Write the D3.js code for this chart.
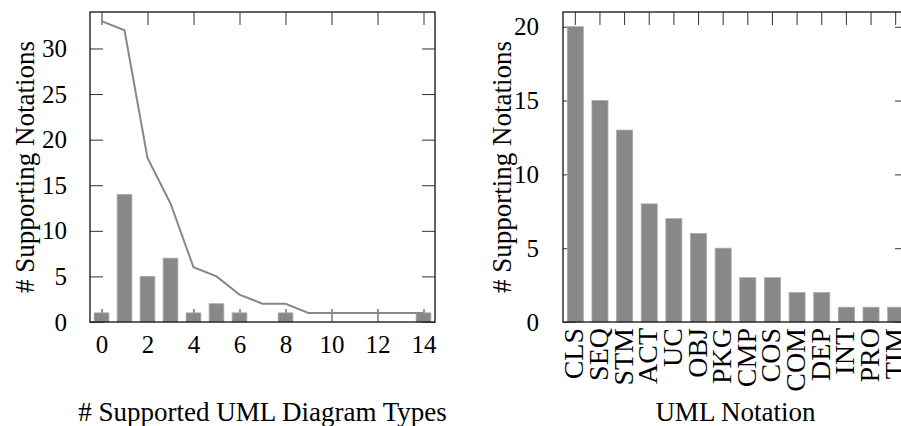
<!DOCTYPE html>
<html>
<head>
<meta charset="utf-8">
<script src="https://cdn.jsdelivr.net/npm/d3@7"></script>
<style>
  body { margin: 0; background: #fff; }
  svg { display: block; }
  text { font-family: "Liberation Serif", "DejaVu Serif", serif; fill: #000; }
</style>
</head>
<body>
<script>
// left chart: tools by number of supported diagram types
var diagTypes = [0, 1, 2, 3, 4, 5, 6, 7, 8, 9, 10, 11, 12, 13, 14];
var toolCounts = [1, 14, 5, 7, 1, 2, 1, 0, 1, 0, 0, 0, 0, 0, 1];
var cumulative = [33, 32, 18, 13, 6, 5, 3, 2, 2, 1, 1, 1, 1, 1, 1];
var leftXTicks = [0, 2, 4, 6, 8, 10, 12, 14];
var leftYTicks = [0, 5, 10, 15, 20, 25, 30];

// right chart: support per notation
var notations = ['CLS', 'SEQ', 'STM', 'ACT', 'UC', 'OBJ', 'PKG', 'CMP', 'COS', 'COM', 'DEP', 'INT', 'PRO', 'TIM'];
var notationCounts = [20, 15, 13, 8, 7, 6, 5, 3, 3, 2, 2, 1, 1, 1];
var rightYTicks = [0, 5, 10, 15, 20];

var fsTick = 25;   // numbers
var fsCat = 28;    // rotated notation names
var fsTitle = 27;  // axis titles
var tick = 13;
var barFill = '#888888';
var barEdge = '#a8a8a8';

var svg = d3.select('body')
  .append('svg')
  .attr('width', 901)
  .attr('height', 426);

function cleanAxis(g, size) {
  g.select('.domain').remove();
  g.selectAll('line').attr('stroke', '#333').attr('stroke-width', 1);
  g.selectAll('text').style('font-size', (size || fsTick) + 'px').attr('font-family', null);
}

// ---------- left chart ----------
var L = {left: 90, right: 435, top: 12, bottom: 322};
var x1 = d3.scaleLinear().domain([-0.5, 14.5]).range([L.left, L.right]);
var y1 = d3.scaleLinear().domain([0, 34]).range([L.bottom, L.top]);

var left = svg.append('g');

left.append('g')
  .attr('transform', 'translate(0,' + L.bottom + ')')
  .call(d3.axisBottom(x1).tickValues(leftXTicks).tickSize(-tick).tickPadding(13))
  .call(cleanAxis);
left.append('g')
  .attr('transform', 'translate(0,' + L.top + ')')
  .call(d3.axisTop(x1).tickValues(leftXTicks).tickSize(-tick).tickFormat(''))
  .call(cleanAxis);
left.append('g')
  .attr('transform', 'translate(' + L.left + ',0)')
  .call(d3.axisLeft(y1).tickValues(leftYTicks).tickSize(-tick).tickPadding(23))
  .call(cleanAxis);
left.append('g')
  .attr('transform', 'translate(' + L.right + ',0)')
  .call(d3.axisRight(y1).tickValues(leftYTicks).tickSize(-tick).tickFormat(''))
  .call(cleanAxis);

var bw1 = x1(0.32) - x1(0);
left.selectAll('rect.bar')
  .data(diagTypes.filter(function(d, i){ return toolCounts[i] > 0; }))
  .enter()
  .append('rect')
  .attr('class', 'bar')
  .attr('x', d => x1(d) - bw1)
  .attr('width', bw1 * 2)
  .attr('y', d => y1(toolCounts[d]))
  .attr('height', d => y1(0) - y1(toolCounts[d]))
  .attr('fill', barFill)
  .attr('stroke', barEdge)
  .attr('stroke-width', 0.8);

left.append('path')
  .datum(diagTypes)
  .attr('d', d3.line().x(d => x1(d)).y(d => y1(cumulative[d])))
  .attr('fill', 'none')
  .attr('stroke', '#888')
  .attr('stroke-width', 2);

left.append('rect')
  .attr('x', L.left).attr('y', L.top)
  .attr('width', L.right - L.left).attr('height', L.bottom - L.top)
  .attr('fill', 'none').attr('stroke', '#111').attr('stroke-width', 1.3);

left.append('text')
  .attr('transform', 'translate(34,' + (L.top + L.bottom) / 2 + ') rotate(-90)')
  .attr('text-anchor', 'middle')
  .style('font-size', fsTitle + 'px')
  .text('# Supporting Notations');

left.append('text')
  .attr('x', (L.left + L.right) / 2)
  .attr('y', 421)
  .attr('text-anchor', 'middle')
  .style('font-size', fsTitle + 'px')
  .text('# Supported UML Diagram Types');

// ---------- right chart ----------
var R = {left: 563, right: 908, top: 12, bottom: 322};
var x2 = d3.scaleBand().domain(notations).range([R.left, R.right])
  .paddingInner(0.35).paddingOuter(0.175);
var y2 = d3.scaleLinear().domain([0, 21]).range([R.bottom, R.top]);

var right = svg.append('g');

right.append('g')
  .attr('transform', 'translate(0,' + R.bottom + ')')
  .call(d3.axisBottom(x2).tickSize(-tick))
  .call(cleanAxis, fsCat)
  .selectAll('text')
  .attr('x', -6)
  .attr('y', 8)
  .attr('dy', null)
  .attr('transform', 'rotate(-90)')
  .attr('text-anchor', 'end');
right.append('g')
  .attr('transform', 'translate(0,' + R.top + ')')
  .call(d3.axisTop(x2).tickSize(-tick).tickFormat(''))
  .call(cleanAxis);
right.append('g')
  .attr('transform', 'translate(' + R.left + ',0)')
  .call(d3.axisLeft(y2).tickValues(rightYTicks).tickSize(-tick).tickPadding(24))
  .call(cleanAxis);
right.append('g')
  .attr('transform', 'translate(' + R.right + ',0)')
  .call(d3.axisRight(y2).tickValues(rightYTicks).tickSize(-tick).tickFormat(''))
  .call(cleanAxis);

right.selectAll('rect.bar')
  .data(notations)
  .enter()
  .append('rect')
  .attr('class', 'bar')
  .attr('x', d => x2(d))
  .attr('width', x2.bandwidth())
  .attr('y', (d, i) => y2(notationCounts[i]))
  .attr('height', (d, i) => y2(0) - y2(notationCounts[i]))
  .attr('fill', barFill)
  .attr('stroke', barEdge)
  .attr('stroke-width', 0.8);

right.append('rect')
  .attr('x', R.left).attr('y', R.top)
  .attr('width', R.right - R.left).attr('height', R.bottom - R.top)
  .attr('fill', 'none').attr('stroke', '#111').attr('stroke-width', 1.3);

right.append('text')
  .attr('transform', 'translate(511,' + (R.top + R.bottom) / 2 + ') rotate(-90)')
  .attr('text-anchor', 'middle')
  .style('font-size', fsTitle + 'px')
  .text('# Supporting Notations');

right.append('text')
  .attr('x', (R.left + R.right) / 2)
  .attr('y', 421)
  .attr('text-anchor', 'middle')
  .style('font-size', fsTitle + 'px')
  .text('UML Notation');
</script>
</body>
</html>
